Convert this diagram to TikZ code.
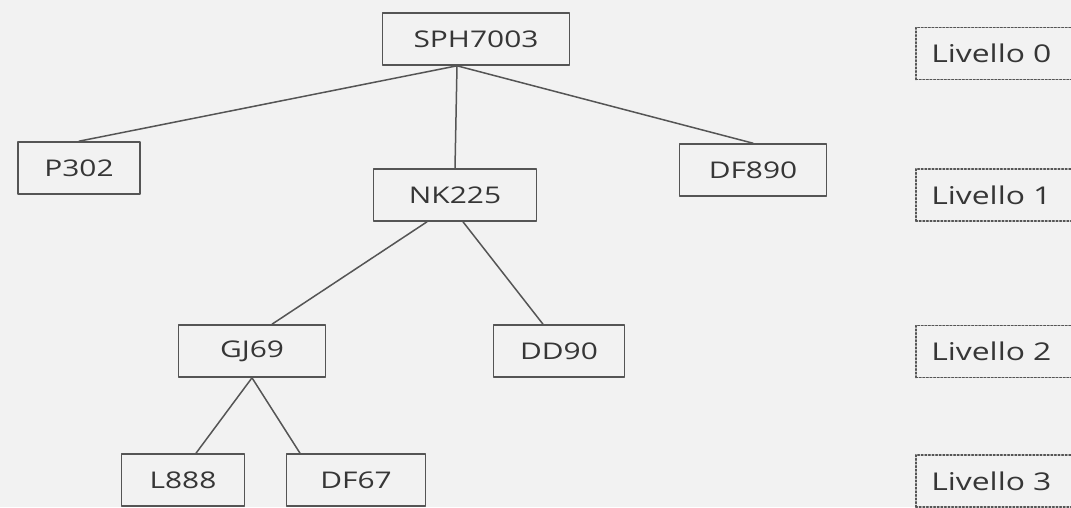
\documentclass[tikz,border=0pt]{standalone}
\usepackage{fontspec}
\setmainfont{Open Sans}[FakeStretch=1.3]
\definecolor{tratto}{HTML}{555555}
\definecolor{scritta}{HTML}{363636}
\definecolor{carta}{HTML}{F2F2F2}
\begin{document}
\begin{tikzpicture}[x=1pt, y=-1pt, line join=round, line cap=round,
		font=\fontsize{23}{27}\selectfont, text=scritta,
		codice/.style={draw=tratto, line width=1.6pt, minimum height=52pt, inner sep=0pt},
		livello/.style={draw=tratto, dotted, line width=1.6pt, anchor=west, minimum height=52pt, minimum width=190pt, text width=175pt, align=left, inner sep=0pt, font=\fontsize{24.5}{28}\selectfont}]
			\useasboundingbox (0,0) rectangle (1071,507);
			\fill[carta] (0,0) rectangle (1071,507);
			\clip (0,0) rectangle (1071,507);
			% albero
			\node[codice, minimum width=187pt] (sph) at (476,39) {SPH7003};
			\node[codice, minimum width=122pt] (p302) at (79,168) {P302};
			\node[codice, minimum width=163pt] (nk) at (455,195) {NK225};
			\node[codice, minimum width=147pt] (df890) at (753,170) {DF890};
			\node[codice, minimum width=147pt] (gj) at (252,351) {GJ69};
			\node[codice, minimum width=131pt] (dd) at (559,351) {DD90};
			\node[codice, minimum width=123pt] (l888) at (183,480) {L888};
			\node[codice, minimum width=139pt] (df67) at (356,480) {DF67};
			\coordinate (sphb) at ([xshift=-19pt]sph.south);
			\draw[tratto, line width=1.5pt] (sphb) -- (p302.north);
			\draw[tratto, line width=1.5pt] (sphb) -- (nk.north);
			\draw[tratto, line width=1.5pt] (sphb) -- (df890.north);
			\draw[tratto, line width=1.5pt] ([xshift=-28pt]nk.south) -- ([xshift=20pt]gj.north);
			\draw[tratto, line width=1.5pt] ([xshift=8pt]nk.south) -- ([xshift=-16pt]dd.north);
			\draw[tratto, line width=1.5pt] (gj.south) -- ([xshift=13pt]l888.north);
			\draw[tratto, line width=1.5pt] (gj.south) -- ([xshift=-56pt]df67.north);
			% livelli
			\foreach \n/\y in {0/53.5, 1/195, 2/351.5, 3/481}
				\node[livello] (liv\n) at (915,\y) {\hspace*{8pt}Livello \n};
		\end{tikzpicture}
\end{document}
